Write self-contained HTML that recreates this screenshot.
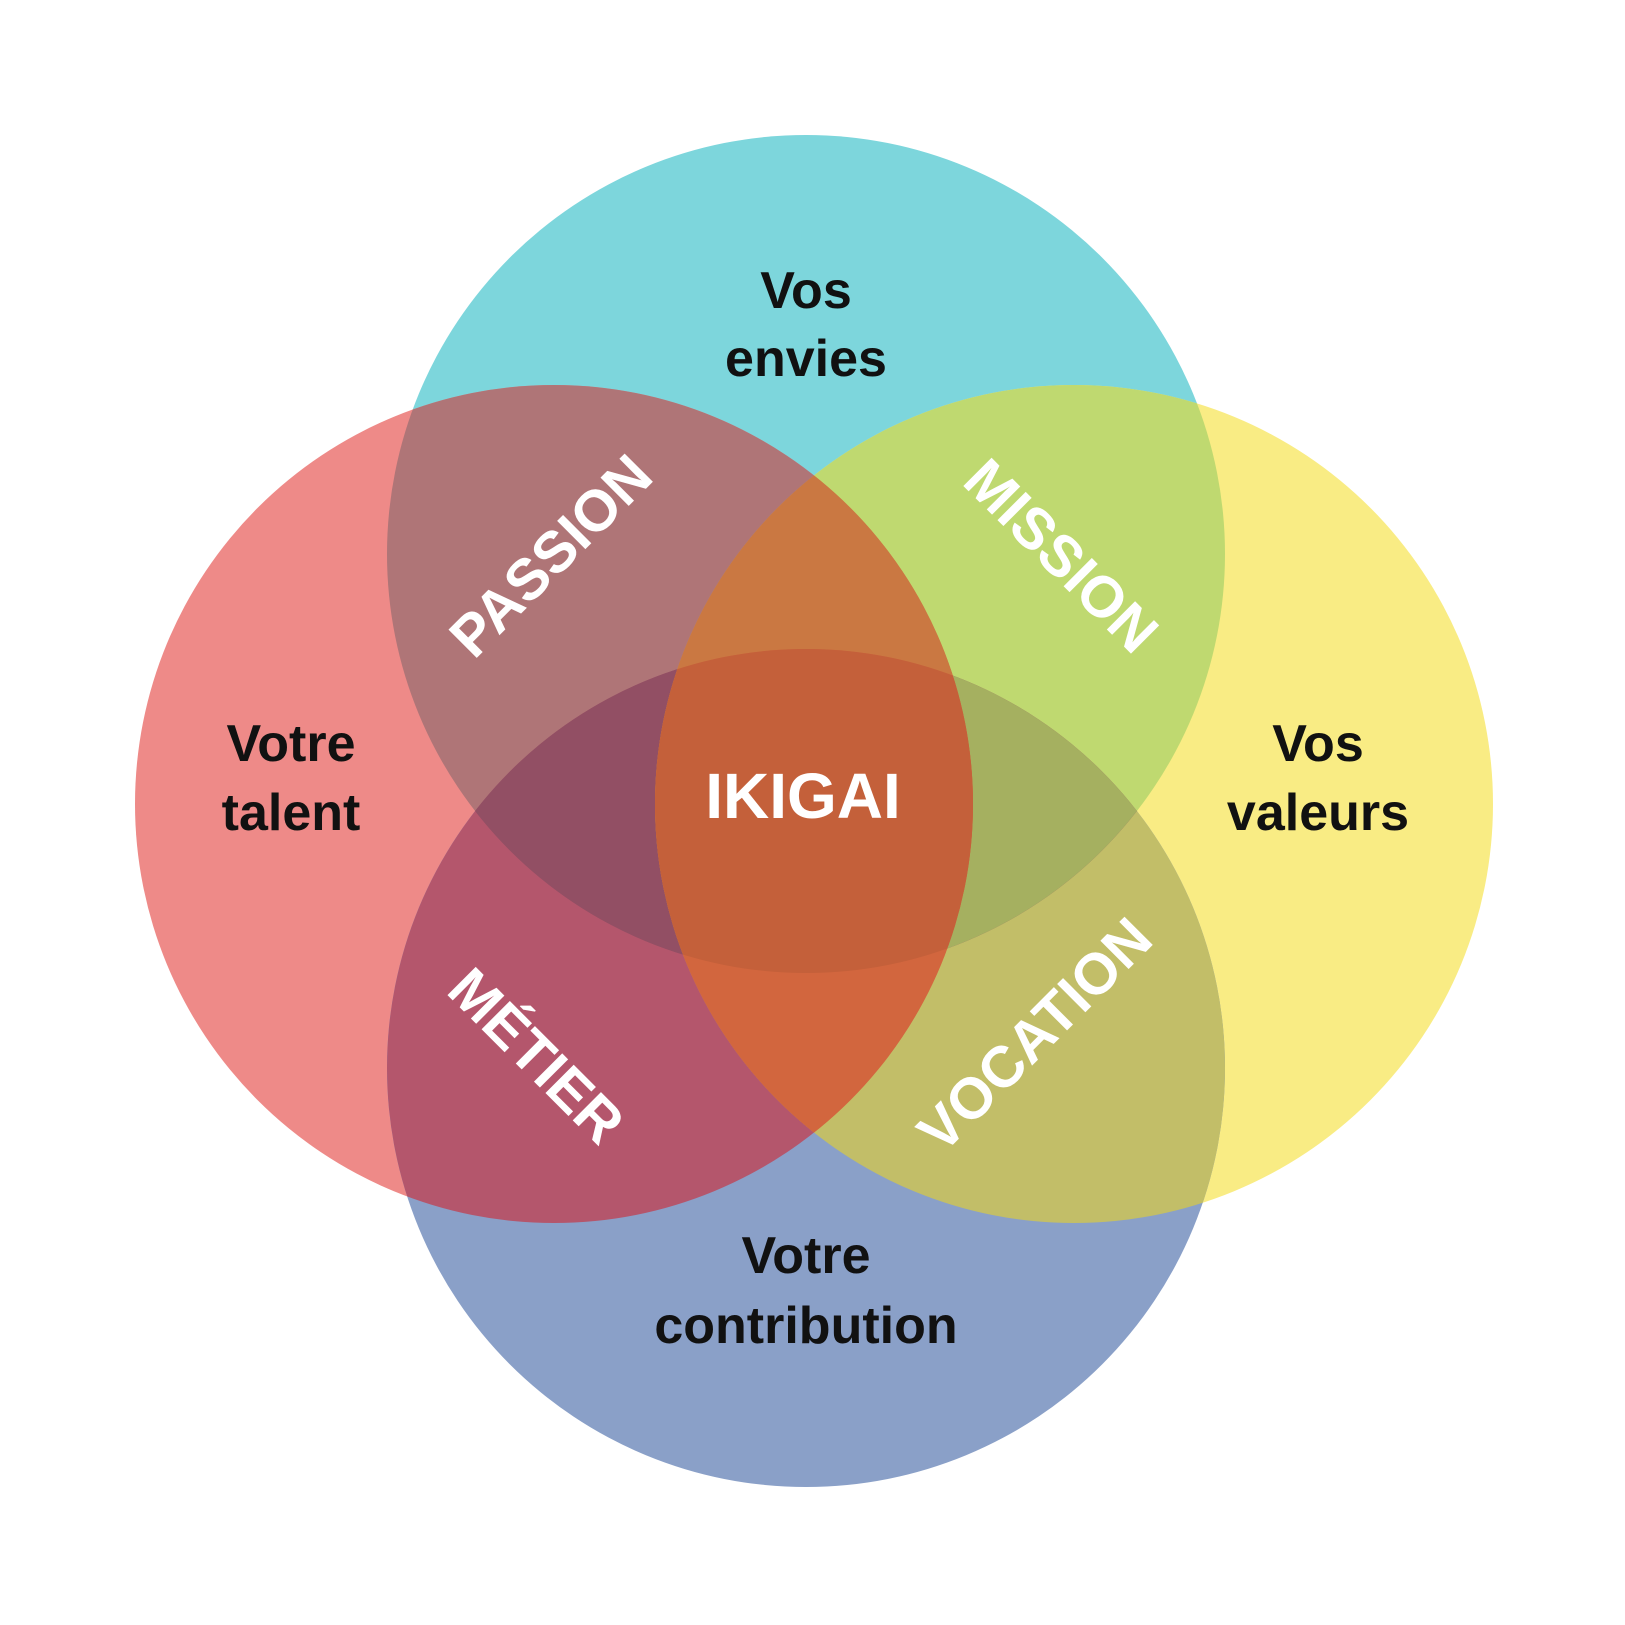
<!DOCTYPE html>
<html><head><meta charset="utf-8"><style>
html,body{margin:0;padding:0;background:#fff;}
svg{display:block;}
text{font-family:"Liberation Sans",sans-serif;font-weight:bold;text-anchor:middle;dominant-baseline:central;}
.d{fill:#111;font-size:52px;}
.w{fill:#fff;font-size:58px;}
</style></head><body>
<svg width="1625" height="1625" viewBox="0 0 1625 1625" xmlns="http://www.w3.org/2000/svg">
<defs>
<clipPath id="cT"><circle cx="806" cy="554" r="419"/></clipPath>
<clipPath id="cL"><circle cx="554" cy="804" r="419"/></clipPath>
<clipPath id="cR"><circle cx="1074" cy="804" r="419"/></clipPath>
<clipPath id="cB"><circle cx="806" cy="1068" r="419"/></clipPath>
</defs>
<rect width="1625" height="1625" fill="#fff"/>
<circle cx="806" cy="554" r="419" fill="#7DD6DC"/>
<circle cx="554" cy="804" r="419" fill="#EE8A88"/>
<circle cx="1074" cy="804" r="419" fill="#F9EC84"/>
<circle cx="806" cy="1068" r="419" fill="#8AA0C8"/>
<g clip-path="url(#cT)"><circle cx="554" cy="804" r="419" fill="#AF7577"/></g>
<g clip-path="url(#cT)"><circle cx="1074" cy="804" r="419" fill="#BFD970"/></g>
<g clip-path="url(#cB)"><circle cx="554" cy="804" r="419" fill="#B4566C"/></g>
<g clip-path="url(#cB)"><circle cx="1074" cy="804" r="419" fill="#C2BE68"/></g>
<g clip-path="url(#cL)"><circle cx="1074" cy="804" r="419" fill="#D2663E"/></g>
<g clip-path="url(#cT)"><circle cx="806" cy="1068" r="419" fill="#924F64"/></g>
<g clip-path="url(#cT)"><g clip-path="url(#cB)"><circle cx="554" cy="804" r="419" fill="#924F64"/></g></g>
<g clip-path="url(#cT)"><g clip-path="url(#cB)"><circle cx="1074" cy="804" r="419" fill="#A5B060"/></g></g>
<g clip-path="url(#cT)"><g clip-path="url(#cL)"><circle cx="1074" cy="804" r="419" fill="#CA7842"/></g></g>
<g clip-path="url(#cB)"><g clip-path="url(#cL)"><circle cx="1074" cy="804" r="419" fill="#D2663E"/></g></g>
<g clip-path="url(#cT)"><g clip-path="url(#cB)"><g clip-path="url(#cL)"><circle cx="1074" cy="804" r="419" fill="#C4603A"/></g></g></g>

<text class="d" x="806" y="291">Vos</text>
<text class="d" x="806" y="359">envies</text>
<text class="d" x="291" y="744">Votre</text>
<text class="d" x="291" y="813">talent</text>
<text class="d" x="1318" y="744">Vos</text>
<text class="d" x="1318" y="813">valeurs</text>
<text class="d" x="806" y="1256">Votre</text>
<text class="d" x="806" y="1326">contribution</text>
<text class="w" x="803" y="796" style="font-size:64px">IKIGAI</text>
<text class="w" transform="translate(551,556) rotate(-45)">PASSION</text>
<text class="w" transform="translate(1061,556) rotate(45)">MISSION</text>
<text class="w" transform="translate(536,1056) rotate(45)">MÉTIER</text>
<text class="w" transform="translate(1035,1035) rotate(-45)">VOCATION</text>
</svg>
</body></html>
